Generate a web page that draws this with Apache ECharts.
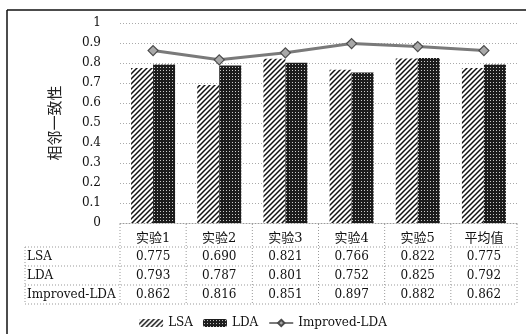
<!DOCTYPE html>
<html>
<head>
<meta charset="utf-8">
<script src="https://cdn.jsdelivr.net/npm/echarts@6/dist/echarts.min.js"></script>
<style>
  html, body { margin: 0; padding: 0; background: #fff; }
  #chart { width: 526px; height: 334px; }
</style>
</head>
<body>
<div id="chart"></div>
<script>
// Experiment columns and per-method scores
const categories = ['实验1', '实验2', '实验3', '实验4', '实验5', '平均值'];
const lsaValues = [0.775, 0.690, 0.821, 0.766, 0.822, 0.775];
const ldaValues = [0.793, 0.787, 0.801, 0.752, 0.825, 0.792];
const improvedValues = [0.862, 0.816, 0.851, 0.897, 0.882, 0.862];
const seriesNames = ['LSA', 'LDA', 'Improved-LDA'];
const yTicks = { min: 0, max: 1, interval: 0.1 };

const SERIF = '"DejaVu Serif", "Noto Sans CJK SC", serif';

// Hatched fill: diagonal black strokes on white
function hatchPattern() {
  const s = 5;
  const c = document.createElement('canvas');
  c.width = s; c.height = s;
  const g = c.getContext('2d');
  g.fillStyle = '#fff'; g.fillRect(0, 0, s, s);
  g.strokeStyle = '#111'; g.lineWidth = 1.5;
  g.beginPath();
  g.moveTo(-1, s + 1); g.lineTo(s + 1, -1);
  g.moveTo(-1, 1); g.lineTo(1, -1);
  g.moveTo(s - 1, s + 1); g.lineTo(s + 1, s - 1);
  g.stroke();
  return c;
}
// Dark fill with a fine grid of light dots
function dotPattern() {
  const s = 3;
  const c = document.createElement('canvas');
  c.width = s; c.height = s;
  const g = c.getContext('2d');
  g.fillStyle = '#1c1c1c'; g.fillRect(0, 0, s, s);
  g.fillStyle = 'rgba(235,235,235,0.85)'; g.fillRect(1, 1, 1, 1);
  return c;
}

const chart = echarts.init(document.getElementById('chart'), null, { renderer: 'canvas' });

const GRID = { left: 120, right: 9, top: 23, bottom: 111 };

chart.setOption({
  backgroundColor: '#fff',
  animation: false,
  grid: GRID,
  legend: {
    top: 312,
    left: 'center',
    itemWidth: 24,
    itemHeight: 8,
    itemGap: 10,
    textStyle: { fontFamily: SERIF, fontSize: 12, color: '#111' },
    data: seriesNames
  },
  xAxis: {
    type: 'category',
    data: categories,
    axisLine: { lineStyle: { color: '#999', type: [1, 2] } },
    axisTick: { show: false },
    axisLabel: { margin: 9, fontFamily: SERIF, fontSize: 13, color: '#111' }
  },
  yAxis: {
    type: 'value',
    min: yTicks.min, max: yTicks.max, interval: yTicks.interval,
    name: '相邻一致性',
    nameLocation: 'middle',
    nameRotate: 90,
    nameGap: 58,
    nameTextStyle: { fontFamily: '"Noto Sans CJK SC", sans-serif', fontSize: 15, color: '#222' },
    axisLine: { show: false },
    axisTick: { show: false },
    axisLabel: { margin: 19, fontFamily: SERIF, fontSize: 12, color: '#111' },
    splitLine: { lineStyle: { color: '#aaa', type: [1, 2] } }
  },
  series: [
    {
      name: seriesNames[0], type: 'bar', data: lsaValues,
      barWidth: 22, barGap: '0%',
      itemStyle: { color: { image: hatchPattern(), repeat: 'repeat' } }
    },
    {
      name: seriesNames[1], type: 'bar', data: ldaValues,
      barWidth: 22, barGap: '0%',
      itemStyle: { color: { image: dotPattern(), repeat: 'repeat' } }
    },
    {
      name: seriesNames[2], type: 'line', data: improvedValues,
      symbol: 'diamond', symbolSize: 10,
      lineStyle: { color: '#7a7a7a', width: 3 },
      itemStyle: { color: '#a8a8a8', borderColor: '#4a4a4a', borderWidth: 1.2 }
    }
  ]
});

// Data table under the plot, aligned with the category bands
function buildTable() {
  const rows = [lsaValues, ldaValues, improvedValues];
  const yAxisZero = chart.convertToPixel({ yAxisIndex: 0 }, 0);
  const c0 = chart.convertToPixel({ xAxisIndex: 0 }, 0);
  const c1 = chart.convertToPixel({ xAxisIndex: 0 }, 1);
  const band = c1 - c0;
  const leftEdge = c0 - band / 2;
  const rightEdge = leftEdge + band * categories.length;
  const tableLeft = 25;
  const headerTop = yAxisZero + 1;
  const headerBottom = 247;
  const rowH = 19;
  const bottom = headerBottom + rowH * rows.length;
  const dash = { stroke: '#999', lineWidth: 1, lineDash: [1, 2] };
  const els = [];
  const hline = (x1, x2, y) => els.push({ type: 'line', shape: { x1, y1: y, x2, y2: y }, style: dash, silent: true });
  const vline = (x, y1, y2) => els.push({ type: 'line', shape: { x1: x, y1, x2: x, y2 }, style: dash, silent: true });

  for (let r = 0; r <= rows.length; r++) hline(tableLeft, rightEdge, headerBottom + r * rowH);
  vline(tableLeft, headerBottom, bottom);
  for (let i = 0; i <= categories.length; i++) vline(leftEdge + i * band, headerTop, bottom);

  rows.forEach((vals, r) => {
    const cy = headerBottom + r * rowH + rowH / 2 + 0.5;
    els.push({
      type: 'text', silent: true,
      style: { text: seriesNames[r], x: tableLeft + 2, y: cy, align: 'left', verticalAlign: 'middle',
               font: '12px ' + SERIF, fill: '#111' }
    });
    vals.forEach((v, i) => {
      els.push({
        type: 'text', silent: true,
        style: { text: v.toFixed(3), x: c0 + i * band, y: cy, align: 'center', verticalAlign: 'middle',
                 font: '12px ' + SERIF, fill: '#111' }
      });
    });
  });

  // Outer frame lines
  els.push({ type: 'line', silent: true, shape: { x1: 7, y1: 10, x2: 526, y2: 10 }, style: { stroke: '#111', lineWidth: 1.5 } });
  els.push({ type: 'line', silent: true, shape: { x1: 7, y1: 10, x2: 7, y2: 334 }, style: { stroke: '#111', lineWidth: 1.5 } });

  chart.setOption({ graphic: { elements: els } });
}
buildTable();
</script>
</body>
</html>
